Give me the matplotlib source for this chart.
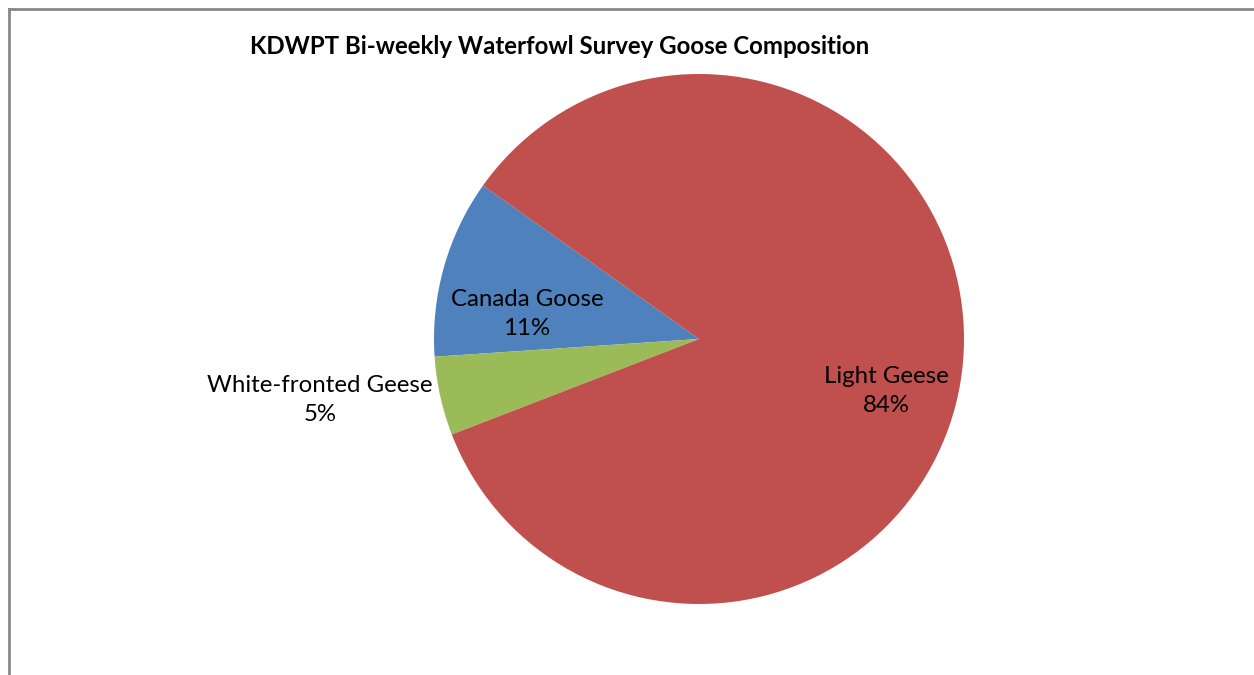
import matplotlib.pyplot as plt
from matplotlib.lines import Line2D

# goose survey composition (percent of total geese counted)
species = ['Canada Goose', 'White-fronted Geese', 'Light Geese']
share = [10.9, 4.8, 84.3]
colors = ['#4F81BD', '#9BBB59', '#C0504D']

W, H = 1254, 675
fig = plt.figure(figsize=(W / 100, H / 100), dpi=100)
plt.rcParams['font.family'] = ['Lato', 'DejaVu Sans']

# pie centre at (699, 339) px from the top left, radius 265 px
cx, cy, r = 699, 339, 265
ax = fig.add_axes([(cx - r) / W, (H - cy - r) / H, 2 * r / W, 2 * r / H])
ax.pie(share, colors=colors, startangle=144.6, counterclock=True,
       radius=1, wedgeprops=dict(linewidth=0))
ax.set_xlim(-1, 1)
ax.set_ylim(-1, 1)
ax.set_aspect('equal')
ax.axis('off')

# label positions in radius units
label_pos = [(-0.649, 0.094), (-1.43, -0.23), (0.706, -0.196)]
for name, val, (x, y) in zip(species, share, label_pos):
    ax.text(x, y, f'{name}\n{round(val)}%', ha='center', va='center',
            fontsize=17.3, linespacing=1.48, color='black', clip_on=False)

fig.text(560 / W, 1 - 46 / H, 'KDWPT Bi-weekly Waterfowl Survey Goose Composition',
         ha='center', va='center', fontsize=17.3, fontweight='bold')

# chart frame (left and top edges)
fig.add_artist(Line2D([8.5 / W, 8.5 / W], [0, 1 - 8.5 / H], color='#888888', lw=2))
fig.add_artist(Line2D([8.5 / W, 1], [1 - 8.5 / H, 1 - 8.5 / H], color='#888888', lw=2))

fig.savefig('out.png', dpi=100, facecolor='white')
